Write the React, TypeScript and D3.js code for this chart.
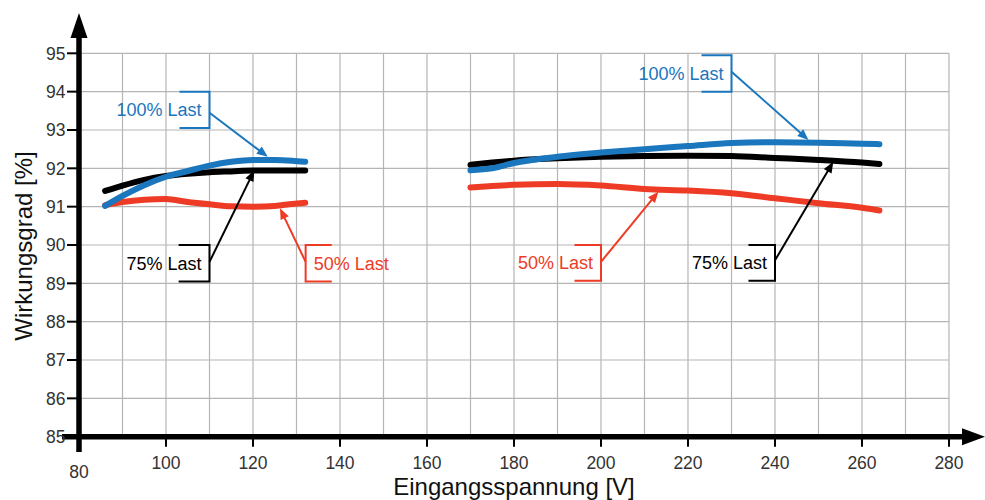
import React from "react";
import * as d3 from "d3";

// ---- data ----
const leftVolts = [86, 90, 95, 100, 105, 110, 115, 120, 125, 129, 132];
const leftLoad100 = [91.02, 91.28, 91.56, 91.78, 91.93, 92.07, 92.17, 92.22, 92.22, 92.2, 92.17];
const leftLoad75 = [91.41, 91.55, 91.7, 91.8, 91.86, 91.9, 91.92, 91.94, 91.94, 91.94, 91.94];
const leftLoad50 = [91.04, 91.12, 91.18, 91.2, 91.12, 91.06, 91.01, 91.0, 91.02, 91.07, 91.1];

const rightVolts = [170, 175, 180, 190, 200, 210, 220, 230, 240, 250, 260, 264];
const rightLoad100 = [91.95, 92.0, 92.14, 92.3, 92.41, 92.5, 92.58, 92.66, 92.68, 92.67, 92.64, 92.63];
const rightLoad75 = [92.09, 92.15, 92.2, 92.26, 92.3, 92.32, 92.33, 92.32, 92.27, 92.22, 92.15, 92.11];
const rightLoad50 = [91.5, 91.54, 91.57, 91.59, 91.55, 91.46, 91.42, 91.35, 91.22, 91.09, 90.97, 90.9];

const xTicks = [80, 100, 120, 140, 160, 180, 200, 220, 240, 260, 280];
const yTicks = [85, 86, 87, 88, 89, 90, 91, 92, 93, 94, 95];
const xGrid = [90, 100, 110, 120, 130, 140, 150, 160, 170, 180, 190, 200, 210, 220, 230, 240, 250, 260, 270, 280];
const yGrid = [86, 87, 88, 89, 90, 91, 92, 93, 94, 95];

const xTitle = "Eingangsspannung [V]";
const yTitle = "Wirkungsgrad [%]";

const BLUE = "#1a76bd";
const RED = "#ee3b25";
const BLACK = "#000000";

// annotation callouts (in data units)
const callouts = [
  { label: "100% Last", color: BLUE, bx: 110, top: 94, bottom: 93.05, dir: -1, w: 6.9, from: 93.45, tip: [123.4, 92.3] },
  { label: "75% Last", color: BLACK, bx: 110, top: 90, bottom: 89.05, dir: -1, w: 7.1, from: 89.56, tip: [120.3, 91.95] },
  { label: "50% Last", color: RED, bx: 132.1, top: 90, bottom: 89.05, dir: 1, w: 6.0, from: 89.56, tip: [126.2, 90.96] },
  { label: "100% Last", color: BLUE, bx: 230, top: 94.95, bottom: 94.0, dir: -1, w: 6.9, from: 94.52, tip: [247.7, 92.74] },
  { label: "50% Last", color: RED, bx: 200, top: 90, bottom: 89.07, dir: -1, w: 6.1, from: 89.56, tip: [213.2, 91.39] },
  { label: "75% Last", color: BLACK, bx: 240, top: 90, bottom: 89.07, dir: -1, w: 6.1, from: 89.6, tip: [253.4, 92.17] },
];

const FONT = "'Liberation Sans', Arial, Helvetica, sans-serif";

export default function App() {
  const W = 985;
  const H = 500;
  const x = d3.scaleLinear().domain([80, 280]).range([79, 949]);
  const y = d3.scaleLinear().domain([85, 95]).range([436.7, 53.3]);

  const line = d3
    .line<[number, number]>()
    .x((d) => x(d[0]))
    .y((d) => y(d[1]))
    .curve(d3.curveMonotoneX);

  const series = [
    { v: leftVolts, p: leftLoad50, c: RED },
    { v: leftVolts, p: leftLoad75, c: BLACK },
    { v: leftVolts, p: leftLoad100, c: BLUE },
    { v: rightVolts, p: rightLoad50, c: RED },
    { v: rightVolts, p: rightLoad75, c: BLACK },
    { v: rightVolts, p: rightLoad100, c: BLUE },
  ];

  const x0 = x(80);
  const y0 = y(85);

  const arrowHead = (x1: number, y1: number, x2: number, y2: number, len = 11, half = 4.5) => {
    const ang = Math.atan2(y2 - y1, x2 - x1);
    const bx = x2 - len * Math.cos(ang);
    const by = y2 - len * Math.sin(ang);
    const px = -Math.sin(ang) * half;
    const py = Math.cos(ang) * half;
    return `M${x2},${y2}L${bx + px},${by + py}L${bx - px},${by - py}Z`;
  };

  return (
    <svg
      width={W}
      height={H}
      style={{ position: "absolute", left: 0, top: 0, background: "#fff" }}
      fontFamily={FONT}
    >
      {/* grid */}
      <g stroke="#b5b5b5" strokeWidth={1.2}>
        {xGrid.map((v) => (
          <line key={"gx" + v} x1={x(v)} x2={x(v)} y1={y(95)} y2={y0} />
        ))}
        {yGrid.map((v) => (
          <line key={"gy" + v} x1={x0} x2={x(280)} y1={y(v)} y2={y(v)} />
        ))}
      </g>

      {/* curves */}
      {series.map((s, i) => (
        <path
          key={"s" + i}
          d={line(s.v.map((v, j) => [v, s.p[j]] as [number, number])) || ""}
          fill="none"
          stroke={s.c}
          strokeWidth={6}
          strokeLinecap="round"
          strokeLinejoin="round"
        />
      ))}

      {/* callouts */}
      {callouts.map((c, i) => {
        const bx = x(c.bx);
        const ex = x(c.bx + c.dir * c.w);
        const yt = y(c.top);
        const yb = y(c.bottom);
        const mid = (yt + yb) / 2;
        const fx = bx;
        const fy = y(c.from);
        const tx = x(c.tip[0]);
        const ty = y(c.tip[1]);
        const ang = Math.atan2(ty - fy, tx - fx);
        const lx = tx - 9 * Math.cos(ang);
        const ly = ty - 9 * Math.sin(ang);
        return (
          <g key={"c" + i}>
            <path
              d={`M${ex},${yt}H${bx}V${yb}H${ex}`}
              fill="none"
              stroke={c.color}
              strokeWidth={2}
            />
            <line x1={fx} y1={fy} x2={lx} y2={ly} stroke={c.color} strokeWidth={2} />
            <path d={arrowHead(fx, fy, tx, ty)} fill={c.color} />
            <text
              x={c.dir < 0 ? bx - 8 : bx + 8}
              y={mid + 6.5}
              textAnchor={c.dir < 0 ? "end" : "start"}
              fontSize={18}
              fill={c.color}
            >
              {c.label}
            </text>
          </g>
        );
      })}

      {/* axes */}
      <g stroke="#000">
        {yTicks.map((v) => (
          <line key={"ty" + v} x1={67} x2={x0} y1={y(v)} y2={y(v)} strokeWidth={2} />
        ))}
        {xTicks.slice(1).map((v) => (
          <line key={"tx" + v} x1={x(v)} x2={x(v)} y1={y0} y2={y0 + 10} strokeWidth={2} />
        ))}
        <line x1={x0} x2={x0} y1={30} y2={452} strokeWidth={5.5} />
        <line x1={62} x2={968} y1={y0} y2={y0} strokeWidth={5.5} />
      </g>
      <path d={`M${x0},13L${x0 - 8.5},38L${x0 + 8.5},38Z`} fill="#000" />
      <path d={`M985,${y0}L962,${y0 - 8.5}L962,${y0 + 8.5}Z`} fill="#000" />

      {/* tick labels */}
      <g fill="#333" fontSize={17.5}>
        {yTicks.map((v) => (
          <text key={"ly" + v} x={65.5} y={y(v) + 6.3} textAnchor="end">
            {v}
          </text>
        ))}
        {xTicks.map((v) => (
          <text key={"lx" + v} x={x(v)} y={v === 80 ? 477.5 : 468.5} textAnchor="middle">
            {v}
          </text>
        ))}
      </g>

      {/* titles */}
      <text x={514} y={495} textAnchor="middle" fontSize={24} fill="#111">
        {xTitle}
      </text>
      <text
        transform={`translate(31.5,246) rotate(-90)`}
        textAnchor="middle"
        fontSize={24}
        fill="#111"
      >
        {yTitle}
      </text>
    </svg>
  );
}
